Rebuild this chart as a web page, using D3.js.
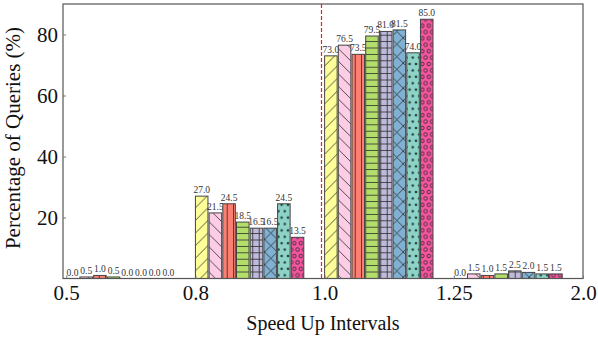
<!DOCTYPE html>
<html>
<head>
<meta charset="utf-8">
<script src="https://d3js.org/d3.v7.min.js"></script>
<style>
  body { margin: 0; background: #fff; }
  text { font-family: "Liberation Serif", "Times New Roman", serif; }
</style>
</head>
<body>
<div id="chart"></div>
<script>
// speed up interval tick labels (placed at group starts)
var tickLabels = ["0.5", "0.8", "1.0", "1.25", "2.0"];

// percentage of queries per interval, one value per method (8 methods)
var bin05to08 = [0.0, 0.5, 1.0, 0.5, 0.0, 0.0, 0.0, 0.0];
var bin08to10 = [27.0, 21.5, 24.5, 18.5, 16.5, 16.5, 24.5, 13.5];
var bin10to125 = [73.0, 76.5, 73.5, 79.5, 81.0, 81.5, 74.0, 85.0];
var bin125to20 = [0.0, 1.5, 1.0, 1.5, 2.5, 2.0, 1.5, 1.5];
var bins = [bin05to08, bin08to10, bin10to125, bin125to20];

var yTicks = [20, 40, 60, 80];

// styles for each method
var colors = ["#ffff99", "#fccde5", "#fb8072", "#b3de69", "#bebada", "#80b1d3", "#8dd3c7", "#f5559f"];
var hatches = ["fwd", "back", "vert", "horiz", "plus", "cross", "dots", "rings"];

var width = 598,
    height = 340;

var svg = d3.select("#chart").append("svg")
    .attr("width", width)
    .attr("height", height);

var x = d3.scaleLinear().domain([-0.025, 4.0]).range([63, 583]);
var y = d3.scaleLinear().domain([0, 90]).range([278.5, 4]);

var pitch = 0.106,  // bar step inside a group (group units)
    barW = 0.097;

//hatch patterns, one per method
var defs = svg.append("defs");
var ink = "#2a2a2a";
hatches.forEach(function(h, i) {
  var s = 6.4, big = 12.6;
  var p = defs.append("pattern")
      .attr("id", "pat" + i)
      .attr("patternUnits", "userSpaceOnUse");
  var size = (h == "fwd" || h == "back" || h == "cross") ? big : s;
  var ph = (h == "dots" || h == "rings") ? s * 2 : size;
  p.attr("width", size).attr("height", ph);
  p.append("rect").attr("width", size).attr("height", ph).attr("fill", colors[i]);
  var d = "";
  if (h == "fwd") d = "M0," + size + "L" + size + ",0M-2,2L2,-2M" + (size - 2) + "," + (size + 2) + "L" + (size + 2) + "," + (size - 2);
  if (h == "back") d = "M0,0L" + size + "," + size + "M-2," + (size - 2) + "L2," + (size + 2) + "M" + (size - 2) + ",-2L" + (size + 2) + ",2";
  if (h == "cross") d = "M0," + size + "L" + size + ",0M0,0L" + size + "," + size;
  if (h == "vert") d = "M" + (s / 2) + ",0V" + s;
  if (h == "horiz") d = "M0," + (s / 2) + "H" + s;
  if (h == "plus") d = "M" + (s / 2) + ",0V" + s + "M0," + (s / 2) + "H" + s;
  if (d) {
    p.append("path").attr("d", d).attr("stroke", ink).attr("stroke-width", 0.8).attr("fill", "none");
  }
  if (h == "dots" || h == "rings") {
    var pts = [[0, 0], [s, 0], [0, 2 * s], [s, 2 * s], [s / 2, s]];
    pts.forEach(function(c) {
      if (h == "dots") {
        p.append("circle").attr("cx", c[0]).attr("cy", c[1]).attr("r", 1.3).attr("fill", "#244040");
      } else {
        p.append("circle").attr("cx", c[0]).attr("cy", c[1]).attr("r", 1.8)
          .attr("fill", "none").attr("stroke", ink).attr("stroke-width", 0.8);
      }
    });
  }
});

//bars and value labels
var flat = [];
bins.forEach(function(vals, g) {
  vals.forEach(function(v, i) {
    flat.push({ group: g, idx: i, value: v });
  });
});

var bar = svg.append("g").selectAll("g")
    .data(flat).enter().append("g");

bar.append("rect")
    .attr("x", function(d) { return x(d.group + d.idx * pitch); })
    .attr("width", x(barW) - x(0))
    .attr("y", function(d) { return y(d.value); })
    .attr("height", function(d) { return y(0) - y(d.value); })
    .attr("fill", function(d) { return "url(#pat" + d.idx + ")"; })
    .attr("stroke", "#444")
    .attr("stroke-width", 1);

bar.append("text")
    .attr("x", function(d) { return x(d.group + d.idx * pitch + barW / 2); })
    .attr("y", function(d) { return y(d.value) - 3; })
    .attr("text-anchor", "middle")
    .attr("font-size", "9.5px")
    .attr("fill", "#333")
    .text(function(d) { return d.value.toFixed(1); });

//red dashed divider at 1.0
var divX = Math.round(x(1.975)) + 0.5;
svg.append("line")
    .attr("x1", divX).attr("x2", divX)
    .attr("y1", y(90)).attr("y2", y(0))
    .attr("stroke", "#ff1a1a")
    .attr("stroke-width", 1.2)
    .attr("stroke-dasharray", "4,2");

//frame
svg.append("rect")
    .attr("x", x.range()[0]).attr("y", y.range()[1])
    .attr("width", x.range()[1] - x.range()[0])
    .attr("height", y.range()[0] - y.range()[1])
    .attr("fill", "none")
    .attr("stroke", "#555")
    .attr("stroke-width", 1.2);

//x axis
var xAxis = svg.append("g")
    .attr("transform", "translate(0," + y(0) + ")")
    .call(d3.axisBottom(x).tickValues([0, 1, 2, 3, 4])
      .tickFormat(function(d, i) { return tickLabels[i]; })
      .tickSize(-3));
xAxis.select(".domain").remove();
xAxis.selectAll("line").attr("stroke", "#777");
xAxis.selectAll("text")
    .attr("y", 21.5).attr("dy", 0)
    .attr("font-size", "21px")
    .attr("fill", "#111")
    .attr("font-family", "Liberation Serif");

//y axis
var yAxis = svg.append("g")
    .attr("transform", "translate(" + x.range()[0] + ",0)")
    .call(d3.axisLeft(y).tickValues(yTicks).tickSize(-3));
yAxis.select(".domain").remove();
yAxis.selectAll("line").attr("stroke", "#777");
yAxis.selectAll("text")
    .attr("x", -5)
    .attr("font-size", "21px")
    .attr("fill", "#111")
    .attr("font-family", "Liberation Serif");

//axis titles
svg.append("text")
    .attr("transform", "translate(20,138) rotate(-90)")
    .attr("text-anchor", "middle")
    .attr("font-size", "21px")
    .attr("fill", "#111")
    .text("Percentage of Queries (%)");

svg.append("text")
    .attr("x", 323).attr("y", 330)
    .attr("text-anchor", "middle")
    .attr("font-size", "20px")
    .attr("fill", "#111")
    .text("Speed Up Intervals");
</script>
</body>
</html>
